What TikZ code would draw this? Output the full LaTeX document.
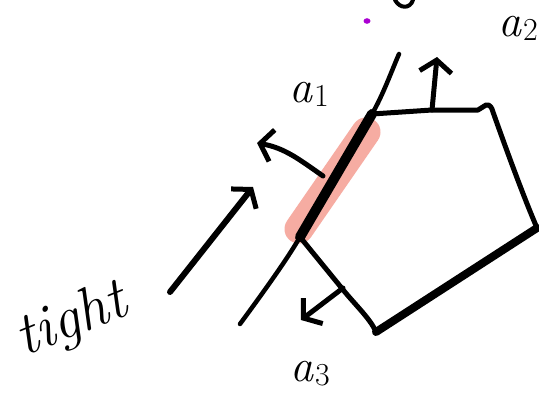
\documentclass[tikz,border=0pt]{standalone}
\usepackage{fontspec}
\usetikzlibrary{arrows.meta}
\definecolor{hl}{RGB}{246,172,162}
\definecolor{dotc}{RGB}{170,0,210}
\newcommand{\lab}[1]{\itshape a\kern2pt\raisebox{-4pt}{\fontsize{32}{36}\selectfont\upshape #1}}
\begin{document}
\begin{tikzpicture}[x=1pt,y=-1pt,line cap=round,line join=round,
  ink/.style={draw=black,line width=5pt},
  heavy/.style={draw=black,line width=10pt},
  barb/.style={-{Straight Barb[length=12pt,width=32pt,line width=5pt]}},
  lbl/.style={font=\fontsize{46}{52}\selectfont,inner sep=0pt}]
\useasboundingbox (0,0) rectangle (539,397);
\fill[white] (0,0) rectangle (539,397);
% coordinates
\coordinate (LT) at (399,54);
\coordinate (LB) at (240,324);
\coordinate (P1) at (372,114);
\coordinate (Q1) at (432,110);
\coordinate (Q2) at (478,110);
\coordinate (Q3) at (486,105);
\coordinate (P3) at (537,228);
\coordinate (P4) at (376,332);
\coordinate (P5) at (300,237);
\coordinate (R1) at (340,286);
% highlight
\draw[hl,line width=29pt] (366,132) -- (299,229);
% separating curve
\draw[ink,line width=4.5pt] (LB) .. controls (262,294) and (286,261) .. (P5) -- (P1) .. controls (383,95) and (392,70) .. (LT);
\draw[heavy] (P5) -- (P1);
% pentagon
\draw[ink] (P1) -- (Q1) -- (Q2) .. controls (482,108) .. (Q3) .. controls (490,104) and (492,108) .. (493,112) .. controls (510,160) and (525,200) .. (P3);
\draw[ink] (P5) -- (R1) .. controls (355,305) and (370,318) .. (P4);
\draw[draw=black,line width=8pt] (P4) -- (P3);
% normals
\coordinate (A1) at (257,143);
\draw[ink,barb] (323,176) .. controls (300,160) and (285,148) .. (A1);
\coordinate (A2t) at (437,57);
\draw[ink,barb] (Q1) -- (A2t);
\coordinate (A3s) at (343,288);
\coordinate (A3t) at (301,320);
\draw[ink,barb] (A3s) -- (A3t);
% light arrow
\coordinate (Ls) at (170,292);
\coordinate (Lt) at (253,187);
\draw[draw=black,line width=6pt,barb] (Ls) -- (Lt);
% labels
\node[lbl] (a1) at (309,94) {\lab{1}};
\node[lbl] (a2) at (518,28) {\lab{2}};
\node[lbl] (a3) at (310,374) {\lab{3}};
\node[font=\fontsize{60}{66}\selectfont,inner sep=0pt,rotate=22] (tight) at (72,322) {\itshape tight};
% fragments at top
\draw[draw=black,line width=4pt] (395,0) .. controls (400,9) and (410,9) .. (413,0);
\fill[dotc] (367,21) ellipse (3.5pt and 2.8pt);
\end{tikzpicture}
\end{document}
